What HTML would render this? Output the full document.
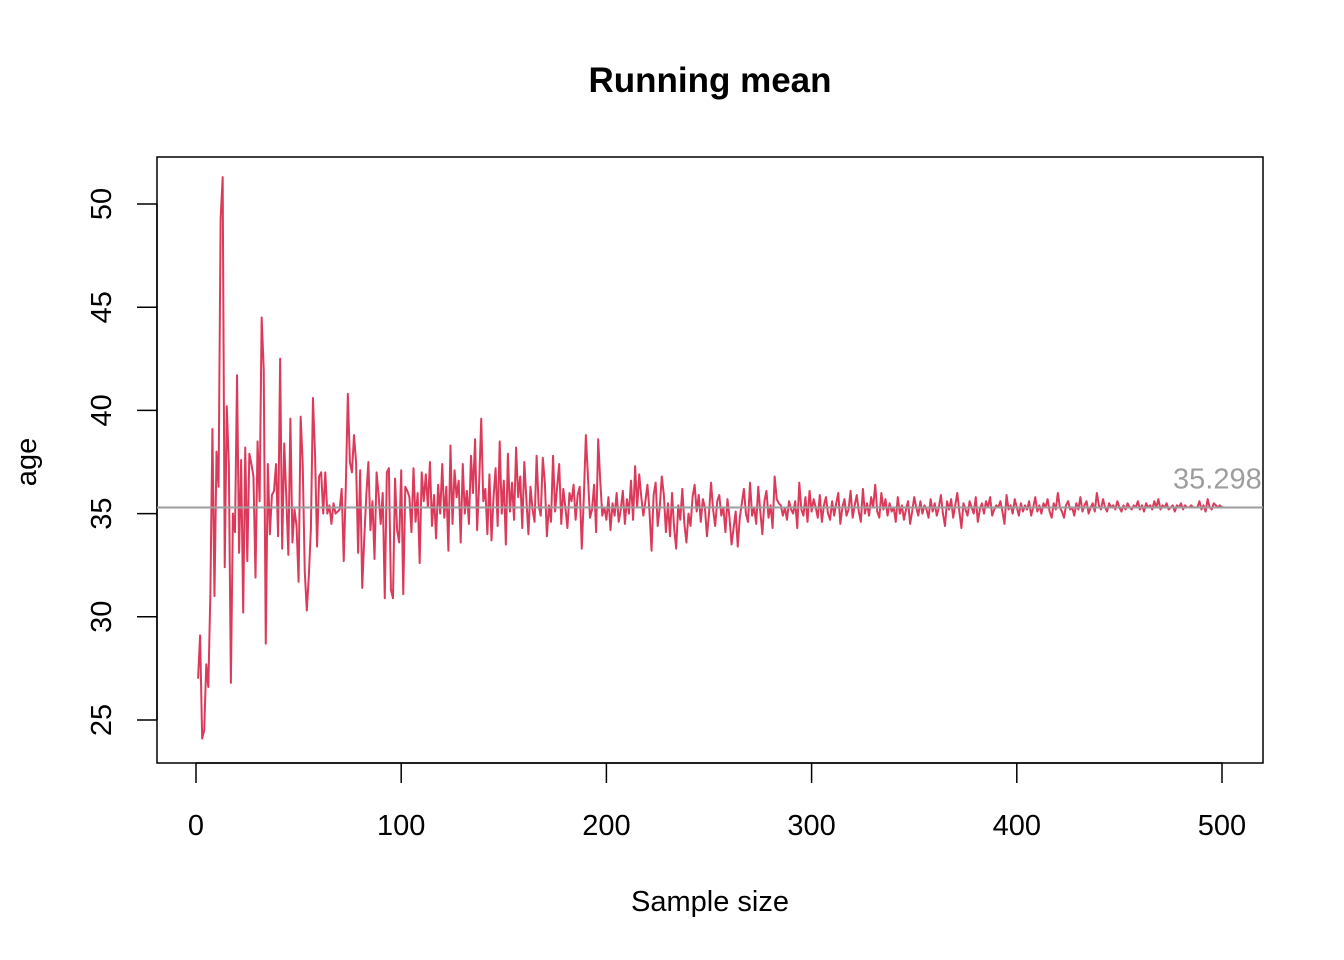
<!DOCTYPE html>
<html><head><meta charset="utf-8"><style>
body{margin:0;background:#fff;}
svg{display:block;font-family:"Liberation Sans",Arial,sans-serif;}
</style></head><body>
<svg id="chart" width="1344" height="960">
<defs><clipPath id="plotclip"><rect x="157" y="157" width="1106" height="606"/></clipPath></defs>
<text x="710" y="92" text-anchor="middle" font-size="35" font-weight="bold">Running mean</text>
<rect x="157" y="157" width="1106" height="606" fill="none" stroke="#000" stroke-width="1.5"/>
<g id="xaxis"></g>
<g id="yaxis"></g>
<text x="710" y="911" text-anchor="middle" font-size="29">Sample size</text>
<text transform="translate(36,462) rotate(-90)" text-anchor="middle" font-size="29">age</text>
<g clip-path="url(#plotclip)" id="plot"></g>
</svg>
<script>
const xTicks=[0,100,200,300,400,500];
const yTicks=[25,30,35,40,45,50];
const meanValue=35.298;
const meanLabel="35.298";
const valsA=[27.0,29.1,24.1,24.5,27.7,26.6,31.1,39.1,31.0,38.0,36.3,49.3,51.3,32.4,40.2,37.4,26.8,35.0,34.1,41.7,33.1,37.6,30.2,38.2,32.7,37.9,37.4,36.8,31.9,38.5,35.6,44.5,42.0,28.7,37.4,34.0,35.9,36.1,37.4,33.9,42.5,33.3,38.4,35.8,33.0,39.6,33.6,35.2,34.4,31.7,39.7,37.4,32.2,30.3,32.0,34.3,40.6,37.9,33.4,36.8,37.0,35.0,37.0,35.0,35.4,34.5,35.5,35.0,35.1,35.2,36.2,32.7,36.3,40.8,37.5,37.0,38.8,37.5,33.1,37.1,31.4,33.8,35.9,37.5,34.2,35.6,32.8,37.0,35.9,34.5,36.0,30.9,37.0,37.2,31.3,30.9,36.7,34.2,33.6,37.1,31.1,36.3,36.1];
const valsB=[35.8,34.1,37.2,34.6,36.0,32.6,37.0,35.6,36.9,35.3,37.5,34.4,35.9,33.8,36.4,35.0,37.4,34.8,36.3,33.2,38.3,34.5,37.1,35.8,36.6,33.6,37.4,35.0,36.1,34.5,37.8,36.0,38.6,34.2,36.5,39.6,35.6,36.2,34.0,36.9,33.7,35.8,37.2,34.4,38.5,35.0,36.6,33.5,37.9,35.1,36.5,34.7,38.2,35.8,36.8,34.3,37.5,35.7,34.0,36.3,35.2,34.6,37.8,35.4,34.9,37.7,36.5,33.9,35.4,34.6,37.8,35.1,36.3,37.4,34.5,36.2,35.3,34.3,36.0,35.6,36.4,34.7,35.9,36.3,33.3,35.8,38.8];
const valsC=[36.8,34.8,35.2,36.4,34.1,38.6,36.6,34.9,35.3,34.7,35.8,34.2,35.5,34.9,36.0,34.6,35.2,36.1,34.5,35.7,35.0,36.6,34.7,37.3,35.3,36.9,35.8,34.9,35.6,36.4,35.1,33.2,35.9,36.5,34.4,35.3,36.8,35.9,34.1,35.5,33.9,36.0,34.3,33.3,35.4,34.7,36.2,34.5,33.6,35.0,34.4,35.8,36.4,35.1,35.9,34.6,35.7,35.3,33.9,35.0,36.5,35.2,34.4,35.6,35.9,34.9,35.3,34.1,35.7,34.8,33.5,34.3,35.1,33.4,34.8,35.5,36.2,35.0,34.6,36.5,34.9,35.3,34.5,36.3,35.1,34.0,35.6,36.1,34.8,35.4,34.3,36.8,35.7,35.5,35.4,34.9,35.3,34.7,35.6,35.2];
const valsD=[35.0,35.6,34.3,36.5,35.2,34.9,35.8,34.6,36.1,35.1,35.7,35.3,34.8,35.9,34.6,35.4,35.8,35.0,34.7,35.6,34.9,35.5,36.0,34.5,35.3,35.7,34.9,35.2,36.1,34.8,35.4,35.9,35.1,34.6,36.2,35.0,35.5,34.9,35.8,35.3,36.4,35.1,34.8,36.0,35.2,35.7,34.9,35.5,35.1,35.3,34.6,35.8,35.0,35.4,34.7,35.2,35.6,34.5,35.1,35.8,35.3,34.9,35.6,35.0,35.4,35.2,34.8,35.7,35.1,35.5,34.9,35.3,35.9,35.0,34.4,35.6,35.2,35.7,34.8,35.4,36.0,35.1,34.3,35.5,35.2,34.9,35.6,35.3,35.0,35.8,34.6,35.2,35.5,35.0,35.6,35.3,35.8,34.9,35.2,35.4];
const valsE=[35.3,35.6,35.1,34.5,35.9,35.2,35.4,35.0,35.7,35.3,34.9,35.5,35.1,35.4,35.2,35.6,34.9,35.3,35.8,35.1,35.4,35.0,35.5,35.3,35.7,35.1,34.8,35.5,35.2,36.0,35.3,35.1,34.8,35.4,35.6,35.2,35.3,34.9,35.5,35.2,35.8,35.1,35.4,35.6,35.0,35.3,35.5,35.1,36.0,35.4,35.2,35.7,35.3,35.1,35.5,35.3,35.4,35.2,35.6,35.3,35.1,35.4,35.2,35.5,35.3,35.2,35.4,35.3,35.6,35.2,35.4,35.1,35.5,35.3,35.4,35.2,35.6,35.3,35.7,35.2,35.4,35.3,35.5,35.2,35.3,35.4,35.1,35.4,35.3,35.5,35.2,35.4,35.3,35.3,35.4,35.3,35.3,35.3];
const valsF=[35.6,35.2,35.4,35.1,35.7,35.3,35.2,35.5,35.4,35.3,35.4,35.3,35.3];
const values=valsA.concat(valsB,valsC,valsD,valsE,valsF);

const NS="http://www.w3.org/2000/svg";
function xs(v){return 196+(v)*(1222-196)/500;}
function ys(v){return 720-(v-25)*(720-204)/25;}
function mk(tag,attrs,parent){const e=document.createElementNS(NS,tag);for(const k in attrs)e.setAttribute(k,attrs[k]);parent.appendChild(e);return e;}

const xa=document.getElementById('xaxis');
mk('line',{x1:xs(xTicks[0]),x2:xs(xTicks[xTicks.length-1]),y1:763,y2:763,stroke:'#000','stroke-width':1.5},xa);
xTicks.forEach(t=>{
  const l=mk('line',{x1:xs(t),x2:xs(t),y1:763,y2:783,stroke:'#000','stroke-width':1.5},xa);
  
  
  const tx=mk('text',{x:xs(t),y:835,'text-anchor':'middle','font-size':29},xa);
  tx.textContent=t;
  
  
});
const ya=document.getElementById('yaxis');
mk('line',{x1:157,x2:157,y1:ys(yTicks[0]),y2:ys(yTicks[yTicks.length-1]),stroke:'#000','stroke-width':1.5},ya);
yTicks.forEach(t=>{
  const l=mk('line',{x1:137,x2:157,y1:ys(t),y2:ys(t),stroke:'#000','stroke-width':1.5},ya);
  
  
  const tx=mk('text',{transform:`translate(111,${ys(t)}) rotate(-90)`,'text-anchor':'middle','font-size':29},ya);
  tx.textContent=t;
  
  
});
const plot=document.getElementById('plot');
const pts=values.map((v,i)=>xs(i+1).toFixed(2)+','+ys(v).toFixed(2)).join(' ');
const pl=mk('polyline',{points:pts,fill:'none',stroke:'#DC3A5A','stroke-width':2,'stroke-linejoin':'round'},plot);


const ml=mk('line',{x1:157,x2:1263,y1:ys(meanValue),y2:ys(meanValue),stroke:'#9E9E9E','stroke-width':2},plot);


const mt=mk('text',{x:1173,y:ys(meanValue)-19,'font-size':29,fill:'#9E9E9E'},plot);
mt.textContent=meanLabel;


</script>
</body></html>
